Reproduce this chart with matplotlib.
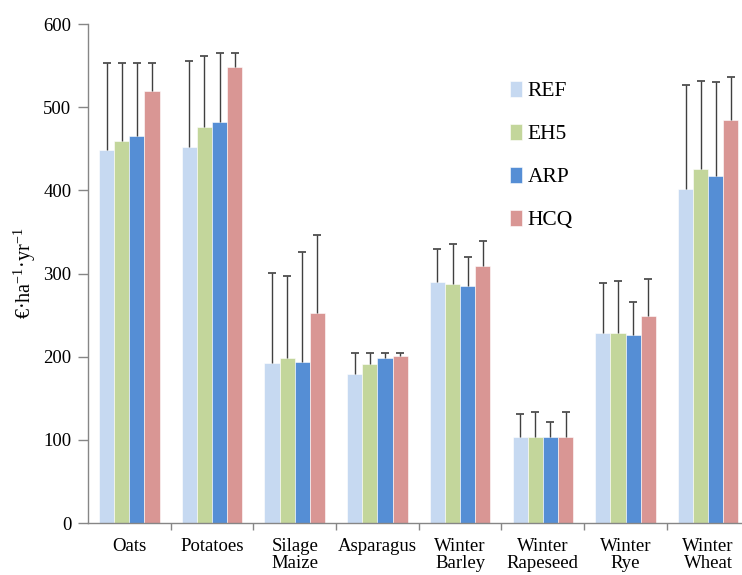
import numpy as np
import matplotlib.pyplot as plt
from matplotlib.ticker import FixedLocator

crops = ['Oats', 'Potatoes', 'Silage\nMaize', 'Asparagus', 'Winter\nBarley',
         'Winter\nRapeseed', 'Winter\nRye', 'Winter\nWheat']
scenarios = ['REF', 'EH5', 'ARP', 'HCQ']

ref = [448, 452, 193, 179, 290, 103, 228, 402]
eh5 = [459, 476, 198, 191, 287, 103, 228, 426]
arp = [465, 482, 194, 198, 285, 103, 226, 417]
hcq = [520, 548, 253, 201, 309, 103, 249, 485]

# upper end of the error bars
ref_top = [553, 555, 301, 205, 330, 131, 289, 527]
eh5_top = [553, 561, 297, 205, 336, 133, 291, 531]
arp_top = [553, 565, 326, 205, 320, 121, 266, 530]
hcq_top = [553, 565, 346, 205, 339, 133, 293, 536]

colors = ['#C6D9F1', '#C3D69B', '#558ED5', '#D99694']

plt.rcParams['font.family'] = ['Liberation Serif', 'DejaVu Serif']
plt.rcParams['mathtext.fontset'] = 'custom'
plt.rcParams['mathtext.rm'] = 'Liberation Serif'

fig = plt.figure(figsize=(7.42, 5.75), dpi=100)
ax = fig.add_axes([0.1186, 0.0904, 0.8916, 0.8678])

x = np.arange(len(crops))
w = 0.183
vals = [ref, eh5, arp, hcq]
tops = [ref_top, eh5_top, arp_top, hcq_top]
for i, (v, t) in enumerate(zip(vals, tops)):
    pos = x + (i - 1.5) * w
    ax.bar(pos, v, width=w, color=colors[i], edgecolor='white', linewidth=0.4,
           label=scenarios[i], zorder=2)
    # one-sided error bars, cap only on top
    ax.vlines(pos, v, t, color='#404040', linewidth=1, zorder=3)
    ax.plot(pos, t, ls='none', marker='_', markersize=6, mew=1.2,
            color='#404040', zorder=3)

ax.set_xlim(-0.5, len(crops) - 0.5)
ax.set_ylim(0, 600)
ax.set_yticks(range(0, 601, 100))
ax.tick_params(axis='y', labelsize=13.5, length=7, width=1, color='#868686', pad=5)

ax.set_xticks(x)
ax.set_xticklabels(crops, fontsize=13.5, linespacing=0.95)
ax.xaxis.set_minor_locator(FixedLocator(np.arange(0.5, len(crops) - 1, 1)))
ax.tick_params(axis='x', which='major', length=0, pad=11)
ax.tick_params(axis='x', which='minor', length=5, width=1, color='#868686')

for s in ['top', 'right']:
    ax.spines[s].set_visible(False)
for s in ['left', 'bottom']:
    ax.spines[s].set_color('#868686')
    ax.spines[s].set_linewidth(1)

ax.set_ylabel(r'€·ha$^{\mathregular{-1}}$·yr$^{\mathregular{-1}}$', fontsize=14.5, labelpad=4)

ax.legend(loc='upper left', bbox_to_anchor=(0.609, 0.925), frameon=False,
          fontsize=15.5, handlelength=0.55, handleheight=0.75, labelspacing=1.05,
          handletextpad=0.25)

fig.savefig('out.png', dpi=100)
